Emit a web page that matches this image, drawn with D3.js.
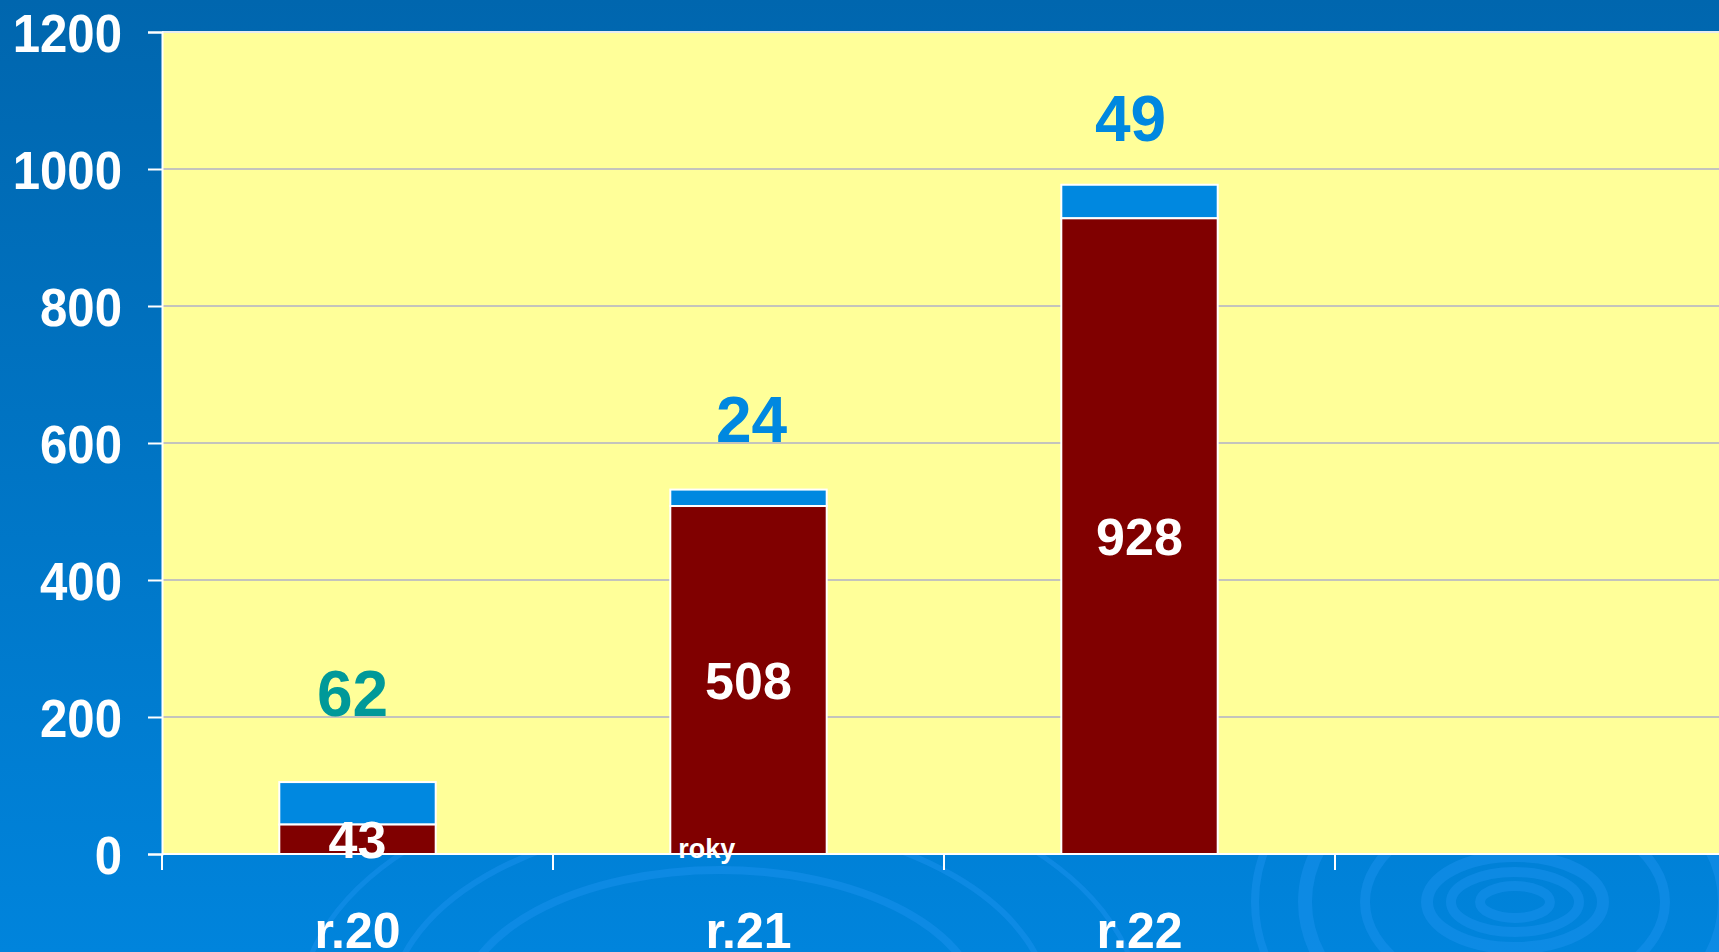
<!DOCTYPE html>
<html lang="cs">

    <head>
        <meta charset="UTF-8">
        <script src="https://d3js.org/d3.v7.min.js"></script>
        <title>roky</title>
        <style>
            body { margin: 0; overflow: hidden; }
            text { font-family: "Liberation Sans", Arial, sans-serif; font-weight: bold; }
        </style>
    </head>

    <body>
        <script>
            // Data
            const categories = ['r.20', 'r.21', 'r.22', ''];
            const redValues = [43, 508, 928];
            const blueValues = [62, 24, 49];
            const yTicks = [0, 200, 400, 600, 800, 1000, 1200];

            // label styling (not data)
            const blueLabelColors = ['#009999', '#0088e0', '#0088e0'];
            const blueLabelGap = [66, 48, 44];
            const blueLabelShift = [-5, 3, -9];

            const W = 1719, H = 952;
            const plotLeft = 162, plotTop = 32, plotBottom = 854;
            const bandW = 391;

            const svg = d3.select('body').append('svg')
                .attr('width', W)
                .attr('height', H);

            // Background gradient
            const defs = svg.append('defs');
            const grad = defs.append('linearGradient')
                .attr('id', 'bg')
                .attr('x1', 0).attr('y1', 0).attr('x2', 0).attr('y2', 1);
            grad.append('stop').attr('offset', '0%').attr('stop-color', '#0066ae');
            grad.append('stop').attr('offset', '100%').attr('stop-color', '#0084dc');

            svg.append('rect')
                .attr('width', W)
                .attr('height', H)
                .attr('fill', 'url(#bg)');

            // ripple decoration
            const ripples = svg.append('g')
                .attr('fill', 'none')
                .attr('stroke', '#1a92ee')
                .attr('stroke-opacity', 0.5);
            [[35, 16, 10], [64, 30, 10], [88, 46, 12], [150, 95, 10], [210, 150, 14], [260, 190, 8]].forEach(r => {
                ripples.append('ellipse')
                    .attr('cx', 1515).attr('cy', 902)
                    .attr('rx', r[0]).attr('ry', r[1])
                    .attr('stroke-width', r[2]);
            });
            [[260, 140, 8], [330, 190, 6], [420, 240, 5]].forEach(r => {
                ripples.append('ellipse')
                    .attr('cx', 720).attr('cy', 1010)
                    .attr('rx', r[0]).attr('ry', r[1])
                    .attr('stroke-width', r[2]);
            });

            const xScale = d3.scaleBand()
                .domain(categories)
                .range([plotLeft, plotLeft + bandW * categories.length])
                .padding(0);

            const yScale = d3.scaleLinear()
                .domain([0, 1200])
                .range([plotBottom, plotTop]);

            const barW = xScale.bandwidth() * 0.4;
            const barX = d => xScale(d) + (xScale.bandwidth() - barW) / 2;

            // Plot area
            svg.append('rect')
                .attr('x', plotLeft)
                .attr('y', plotTop)
                .attr('width', W - plotLeft + 20)
                .attr('height', plotBottom - plotTop)
                .attr('fill', '#ffff99');

            // Gridlines
            svg.append('g')
                .selectAll('line')
                .data(yTicks.slice(1, -1))
                .enter()
                .append('line')
                .attr('x1', plotLeft)
                .attr('x2', W)
                .attr('y1', d => yScale(d))
                .attr('y2', d => yScale(d))
                .attr('stroke', '#c4c4bc')
                .attr('stroke-width', 2);

            svg.append('line')
                .attr('x1', plotLeft).attr('x2', W)
                .attr('y1', yScale(1200)).attr('y2', yScale(1200))
                .attr('stroke', '#e8ecf0')
                .attr('stroke-width', 2);

            // Stacked bars
            const barCats = categories.slice(0, redValues.length);

            svg.append('g')
                .selectAll('rect')
                .data(barCats)
                .enter()
                .append('rect')
                .attr('x', d => barX(d))
                .attr('y', (d, i) => yScale(redValues[i] + blueValues[i]))
                .attr('width', barW)
                .attr('height', (d, i) => yScale(redValues[i]) - yScale(redValues[i] + blueValues[i]))
                .attr('fill', '#0088e0')
                .attr('stroke', '#ffffff')
                .attr('stroke-width', 2);

            svg.append('g')
                .selectAll('rect')
                .data(barCats)
                .enter()
                .append('rect')
                .attr('x', d => barX(d))
                .attr('y', (d, i) => yScale(redValues[i]))
                .attr('width', barW)
                .attr('height', (d, i) => yScale(0) - yScale(redValues[i]))
                .attr('fill', '#800000')
                .attr('stroke', '#ffffff')
                .attr('stroke-width', 2);

            // Y axis
            const yAxis = svg.append('g')
                .attr('transform', `translate(${plotLeft}, 0)`)
                .call(d3.axisLeft(yScale).tickValues(yTicks).tickFormat(d3.format('d')).tickSize(14).tickPadding(26));
            yAxis.select('.domain').attr('stroke', '#ffffff').attr('stroke-width', 2);
            yAxis.selectAll('.tick line').attr('stroke', '#ffffff').attr('stroke-width', 2);
            yAxis.selectAll('.tick text')
                .attr('fill', '#ffffff')
                .attr('font-size', '54px')
                .attr('dy', '0.36em')
                .style('font-family', '"Liberation Sans", Arial, sans-serif')
                .style('font-weight', 'bold');
            // the original digits are a little narrower than Arial
            yAxis.selectAll('.tick text').each(function () {
                const w = this.getComputedTextLength();
                d3.select(this)
                    .attr('textLength', w * 0.91)
                    .attr('lengthAdjust', 'spacingAndGlyphs');
            });

            // X axis
            const xAxis = svg.append('g')
                .attr('transform', `translate(0, ${plotBottom})`)
                .call(d3.axisBottom(xScale).tickSize(0).tickPadding(58));
            xAxis.select('.domain').remove();
            xAxis.selectAll('.tick text')
                .attr('fill', '#ffffff')
                .attr('font-size', '50px')
                .style('font-family', '"Liberation Sans", Arial, sans-serif')
                .style('font-weight', 'bold');

            svg.append('line')
                .attr('x1', plotLeft).attr('x2', W)
                .attr('y1', plotBottom).attr('y2', plotBottom)
                .attr('stroke', '#ffffff')
                .attr('stroke-width', 2);

            svg.append('g')
                .selectAll('line')
                .data(categories)
                .enter()
                .append('line')
                .attr('x1', d => xScale(d))
                .attr('x2', d => xScale(d))
                .attr('y1', plotBottom)
                .attr('y2', plotBottom + 16)
                .attr('stroke', '#ffffff')
                .attr('stroke-width', 2);

            // Red segment labels
            svg.append('g')
                .selectAll('text')
                .data(barCats)
                .enter()
                .append('text')
                .text((d, i) => redValues[i])
                .attr('x', d => xScale(d) + xScale.bandwidth() / 2)
                .attr('y', (d, i) => (yScale(0) + yScale(redValues[i])) / 2)
                .attr('dy', '0.36em')
                .attr('text-anchor', 'middle')
                .attr('font-size', '52px')
                .attr('fill', '#ffffff');

            // Blue segment labels
            svg.append('g')
                .selectAll('text')
                .data(barCats)
                .enter()
                .append('text')
                .text((d, i) => blueValues[i])
                .attr('x', (d, i) => xScale(d) + xScale.bandwidth() / 2 + blueLabelShift[i])
                .attr('y', (d, i) => yScale(redValues[i] + blueValues[i]) - blueLabelGap[i])
                .attr('text-anchor', 'middle')
                .attr('font-size', '64px')
                .attr('fill', (d, i) => blueLabelColors[i]);

            // Axis title
            svg.append('text')
                .attr('x', barX('r.21') + 8)
                .attr('y', plotBottom + 4)
                .attr('font-size', '27px')
                .attr('fill', '#ffffff')
                .text('roky');
        </script>
    </body>

</html>
